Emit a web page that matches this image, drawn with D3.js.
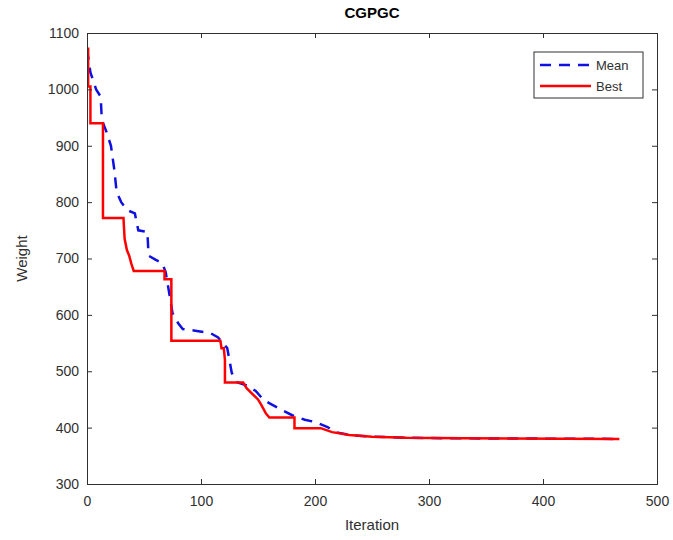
<!DOCTYPE html>
<html>
<head>
<meta charset="utf-8">
<script src="https://cdn.jsdelivr.net/npm/d3@7"></script>
<style>
  html, body { margin: 0; padding: 0; background: #fff; }
  svg { display: block; }
  text { font-family: "Liberation Sans", Arial, Helvetica, sans-serif; }
</style>
</head>
<body>
<div id="chart"></div>
<script>
const titleText = "CGPGC";
const xLabel = "Iteration";
const yLabel = "Weight";
const xTicks = [0, 100, 200, 300, 400, 500];
const yTicks = [300, 400, 500, 600, 700, 800, 900, 1000, 1100];
const seriesNames = ["Mean", "Best"];

const bestIter   = [0, 1, 1, 3, 3, 14, 14, 32, 33, 35, 37, 39, 41, 68, 68, 74, 74, 117, 118, 120, 121, 121, 137, 140, 145, 150, 153, 157, 160, 182, 182, 205, 215, 230, 250, 280, 330, 467];
const bestWeight = [1072, 1072, 1005, 1005, 940, 940, 772, 772, 735, 715, 705, 690, 678, 678, 663, 663, 554, 554, 541, 541, 520, 480, 480, 470, 460, 450, 440, 425, 418, 418, 399, 399, 392, 387, 384, 382, 381, 380];

const meanIter   = [0, 3, 8, 12, 13, 17, 21, 24, 26, 30, 35, 42, 45, 53, 54, 60, 66, 69, 72, 75, 80, 84, 95, 108, 115, 123, 127, 132, 140, 148, 155, 163, 171, 180, 191, 200, 211, 218, 230, 250, 280, 330, 467];
const meanWeight = [1072, 1030, 1000, 987, 946, 925, 900, 857, 818, 800, 786, 780, 750, 747, 705, 698, 692, 676, 640, 603, 585, 575, 572, 568, 560, 541, 497, 480, 475, 465, 449, 440, 431, 422, 414, 410, 401, 392, 387, 384, 382, 381, 380];

const W = 673, H = 540;
const margin = { left: 87, top: 33, right: 16, bottom: 56 };
const iw = W - margin.left - margin.right;
const ih = H - margin.top - margin.bottom;

const svg = d3.select("#chart").append("svg").attr("width", W).attr("height", H);
const g = svg.append("g").attr("transform", `translate(${margin.left},${margin.top})`);

const x = d3.scaleLinear().domain([0, 500]).range([0, iw]);
const y = d3.scaleLinear().domain([300, 1100]).range([ih, 0]);

const axisColor = "#303030";
const tickLen = 5;
const meanColor = "#1010e0";
const bestColor = "#ff0000";

g.append("clipPath").attr("id", "clip").append("rect").attr("width", iw).attr("height", ih);

const line = d3.line().x(d => x(d[0])).y(d => y(d[1]));
const bestData = bestIter.map((v, i) => [v, bestWeight[i]]);
const meanData = meanIter.map((v, i) => [v, meanWeight[i]]);

const plot = g.append("g").attr("clip-path", "url(#clip)");
plot.append("path").datum(meanData).attr("d", line)
  .attr("fill", "none").attr("stroke", meanColor).attr("stroke-width", 2.5)
  .attr("stroke-dasharray", "11,8");
plot.append("path").datum(bestData).attr("d", line)
  .attr("fill", "none").attr("stroke", bestColor).attr("stroke-width", 2.5);

const xAxis = g.append("g").attr("transform", `translate(0,${ih})`)
  .call(d3.axisBottom(x).tickValues(xTicks).tickSize(-tickLen).tickPadding(12).tickFormat(d3.format("d")));
const xTop = g.append("g")
  .call(d3.axisTop(x).tickValues(xTicks).tickSize(-tickLen).tickFormat(""));
const yAxis = g.append("g")
  .call(d3.axisLeft(y).tickValues(yTicks).tickSize(-tickLen).tickPadding(8).tickFormat(d3.format("d")));
const yRight = g.append("g").attr("transform", `translate(${iw},0)`)
  .call(d3.axisRight(y).tickValues(yTicks).tickSize(-tickLen).tickFormat(""));

[xAxis, xTop, yAxis, yRight].forEach(a => {
  a.selectAll("path").attr("stroke", axisColor).attr("stroke-width", 1);
  a.selectAll("line").attr("stroke", axisColor).attr("stroke-width", 1);
  a.selectAll("text").attr("fill", axisColor).attr("font-size", 14)
    .attr("font-family", "'Liberation Sans', Arial, sans-serif");
});

svg.append("text").attr("x", margin.left + iw / 2).attr("y", 18)
  .attr("text-anchor", "middle").attr("font-size", 15).attr("font-weight", "bold")
  .attr("fill", "#000").text(titleText);
svg.append("text").attr("x", margin.left + iw / 2).attr("y", 530)
  .attr("text-anchor", "middle").attr("font-size", 15).attr("fill", axisColor).text(xLabel);
svg.append("text").attr("transform", `translate(27,${margin.top + ih / 2}) rotate(-90)`)
  .attr("text-anchor", "middle").attr("font-size", 15).attr("fill", axisColor).text(yLabel);

const lg = svg.append("g").attr("transform", "translate(534,52)");
lg.append("rect").attr("width", 109).attr("height", 46)
  .attr("fill", "#fff").attr("stroke", axisColor).attr("stroke-width", 1);
const legendStyles = [
  { name: seriesNames[0], color: meanColor, dash: "11,8" },
  { name: seriesNames[1], color: bestColor, dash: null }
];
legendStyles.forEach((s, i) => {
  const yy = 13 + i * 21;
  lg.append("line").attr("x1", 6).attr("x2", 57).attr("y1", yy).attr("y2", yy)
    .attr("stroke", s.color).attr("stroke-width", 2.5)
    .attr("stroke-dasharray", s.dash);
  lg.append("text").attr("x", 62).attr("y", yy + 5).attr("font-size", 13)
    .attr("fill", axisColor).text(s.name);
});
</script>
</body>
</html>
